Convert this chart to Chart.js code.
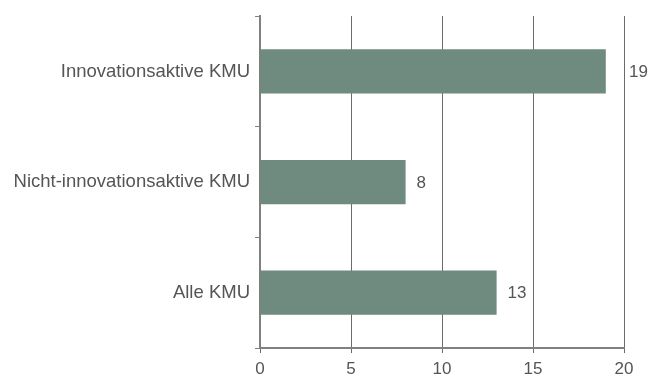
<!DOCTYPE html>
<html>
<head>
<meta charset="utf-8">
<script src="https://cdn.jsdelivr.net/npm/chart.js@4/dist/chart.umd.min.js"></script>
<style>
  html, body { margin: 0; padding: 0; background: #fff; }
  #wrap { width: 660px; height: 376px; position: relative; }
</style>
</head>
<body>
<div id="wrap"><canvas id="chart"></canvas></div>
<script>
// Daten
const categories = ['Innovationsaktive KMU', 'Nicht-innovationsaktive KMU', 'Alle KMU'];
const values = [19, 8, 13];
const xTicks = [0, 5, 10, 15, 20];

const barColor = '#6f8a7e';
const textColor = '#555';
const fontFamily = '"Liberation Sans", Arial, sans-serif';

// Werte rechts neben den Balken (nicht über die Gitterlinie schreiben)
const valueLabels = {
    id: 'valueLabels',
    afterDatasetsDraw(chart) {
        const ctx = chart.ctx;
        const meta = chart.getDatasetMeta(0);
        const right = chart.scales.x.right;
        ctx.save();
        ctx.font = '17px ' + fontFamily;
        ctx.fillStyle = textColor;
        ctx.textBaseline = 'middle';
        ctx.textAlign = 'left';
        meta.data.forEach((bar, i) => {
            const txt = String(values[i]);
            let x = bar.x + 11;
            const w = ctx.measureText(txt).width;
            if (x < right + 4 && x + w > right - 2) x = right + 5;
            ctx.fillText(txt, x, bar.y + 1);
        });
        ctx.restore();
    }
};

new Chart(document.getElementById('chart'), {
    type: 'bar',
    data: {
        labels: categories,
        datasets: [{
            data: values,
            backgroundColor: barColor,
            borderWidth: 0,
            categoryPercentage: 0.4,
            barPercentage: 1.0
        }]
    },
    options: {
        indexAxis: 'y',
        responsive: true,
        maintainAspectRatio: false,
        animation: false,
        layout: { padding: { top: 14, right: 36, left: 0, bottom: 0 } },
        plugins: {
            legend: { display: false },
            tooltip: { enabled: false }
        },
        scales: {
            x: {
                min: 0,
                max: 20,
                afterBuildTicks(scale) {
                    scale.ticks = xTicks.map(v => ({ value: v }));
                },
                afterFit(scale) { scale.height = 28; },
                grid: {
                    color: '#6b6b6b',
                    lineWidth: 1,
                    tickLength: 5
                },
                border: { display: true, color: '#808080', width: 2 },
                ticks: {
                    color: textColor,
                    padding: 6,
                    font: { family: fontFamily, size: 17 }
                }
            },
            y: {
                afterFit(scale) { scale.width = 260; },
                grid: {
                    offset: true,
                    drawOnChartArea: false,
                    color: '#808080',
                    tickLength: 5
                },
                border: { display: true, color: '#808080', width: 2 },
                ticks: {
                    color: textColor,
                    padding: 5,
                    font: { family: fontFamily, size: 18.5 }
                }
            }
        }
    },
    plugins: [valueLabels]
});
</script>
</body>
</html>
